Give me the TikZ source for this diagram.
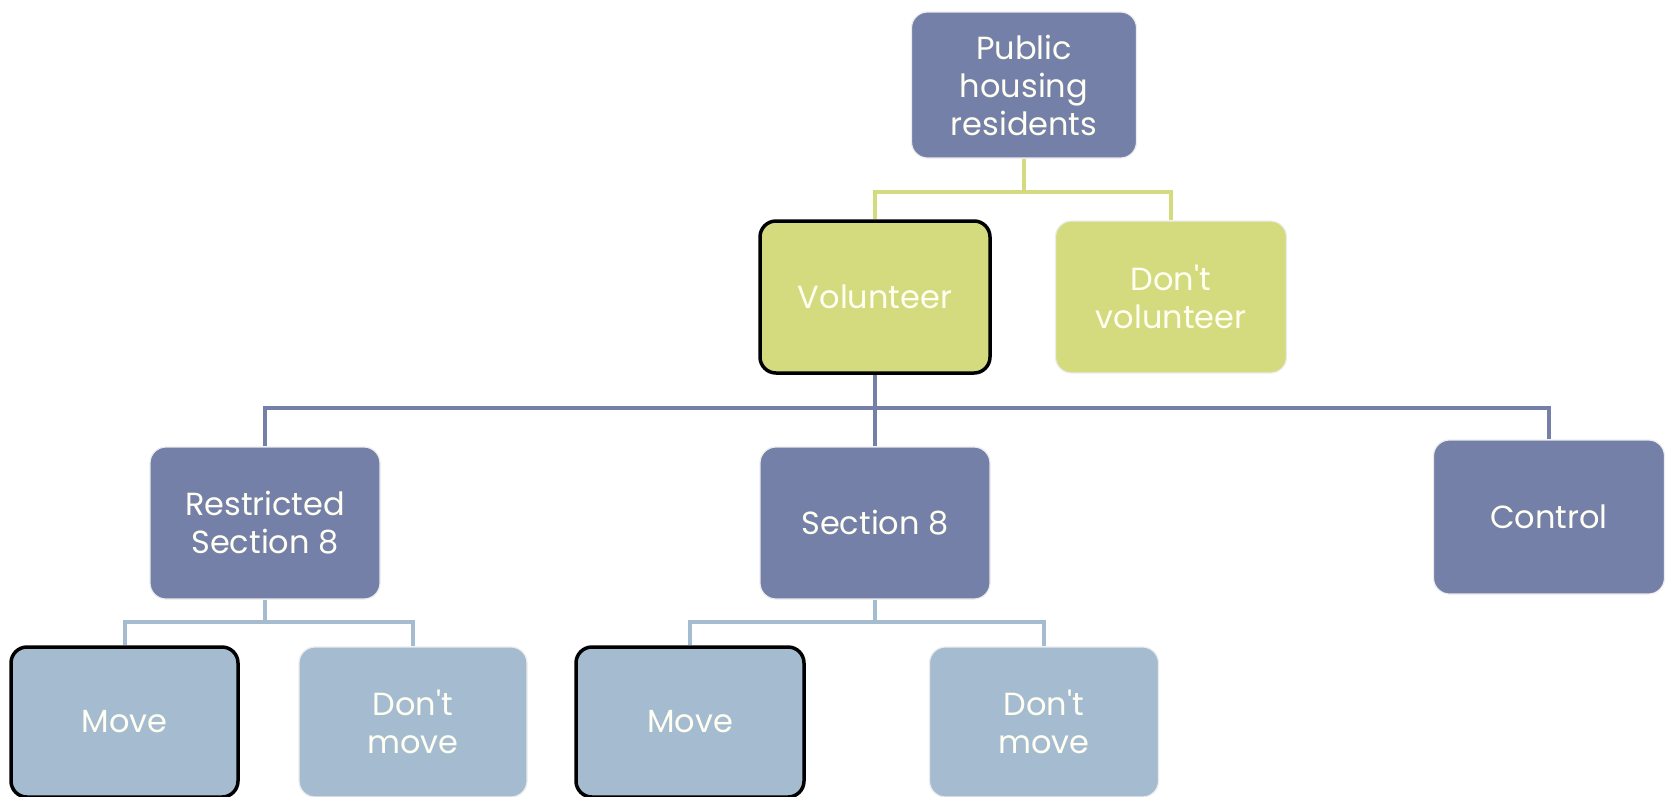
\documentclass[tikz,border=0pt]{standalone}
\usepackage{fontspec}
\setmainfont{Poppins}
\usetikzlibrary{backgrounds}
\definecolor{dkblue}{HTML}{7480A8}
\definecolor{lgreen}{HTML}{D4DB7E}
\definecolor{lblue}{HTML}{A5BCD0}
\definecolor{txtw}{HTML}{FFFFF4}
\begin{document}
\begin{tikzpicture}[x=1pt,y=-1pt,
  box/.style={rounded corners=16pt, minimum width=230pt, minimum height=152pt,
    inner sep=0pt, align=center, text=txtw, draw=gray!15, line width=1.2pt,
    font=\fontsize{32}{38}\selectfont},
  bluebox/.style={box, fill=dkblue},
  greenbox/.style={box, fill=lgreen},
  lightbox/.style={box, fill=lblue},
  sel/.style={draw=black, line width=3.5pt},
  gconn/.style={draw=lgreen, line width=4pt},
  bconn/.style={draw=dkblue, line width=4pt},
  lconn/.style={draw=lblue, line width=4pt}]
\useasboundingbox (0,0) rectangle (1666,796);
\coordinate (g) at (1024,192);
\coordinate (b) at (875,408);
\coordinate (l1) at (265,622);
\coordinate (l2) at (875,622);
% nodes
\node[bluebox, minimum width=225pt, minimum height=146pt] (ph) at (1024,85) {Public\\housing\\residents};
\node[greenbox, sel] (vol) at (875,297) {Volunteer};
\node[greenbox, minimum width=231pt] (dv) at (1171,297) {Don\textquotesingle t\\volunteer};
\node[bluebox] (rs8) at (265,523) {Restricted\\Section 8};
\node[bluebox] (s8) at (875,523) {Section 8};
\node[bluebox, minimum width=231pt, minimum height=154pt] (ctl) at (1549,517) {Control};
\node[lightbox, sel, minimum width=227pt, minimum height=150pt] (m1) at (124.5,722) {Move};
\node[lightbox, minimum width=228pt, minimum height=150pt] (d1) at (413,722) {Don\textquotesingle t\\move};
\node[lightbox, sel, minimum width=228pt, minimum height=150pt] (m2) at (690,722) {Move};
\node[lightbox, minimum width=229pt, minimum height=150pt] (d2) at (1044,722) {Don\textquotesingle t\\move};
% connectors
\begin{pgfonlayer}{background}
\draw[gconn] (ph.south) -- (g);
\draw[gconn] (vol.north) |- (g) -| (dv.north);
\draw[bconn] (vol.south) -- (b);
\draw[bconn] (rs8.north) |- (b) -| (ctl.north);
\draw[bconn] (b) -- (s8.north);
\draw[lconn] (rs8.south) -- (l1);
\draw[lconn] (m1.north) |- (l1) -| (d1.north);
\draw[lconn] (s8.south) -- (l2);
\draw[lconn] (m2.north) |- (l2) -| (d2.north);
\end{pgfonlayer}
\end{tikzpicture}
\end{document}
